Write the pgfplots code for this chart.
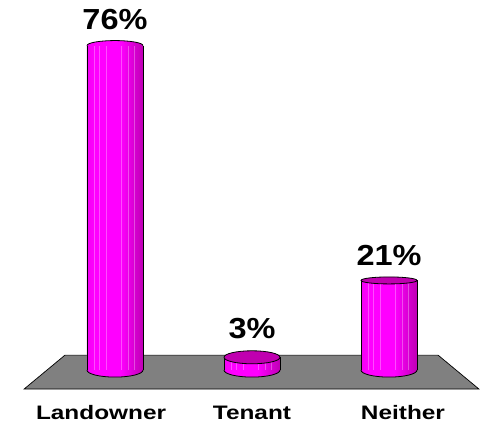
\documentclass[border=0pt]{standalone}
\usepackage{fontspec}
\setmainfont{Liberation Sans}
\newfontfamily\catfont[FakeStretch=1.25]{Liberation Sans}
\newfontfamily\valfont[FakeStretch=1.12]{Liberation Sans}
\usepackage{pgfplots}
\pgfplotsset{compat=1.18}

\definecolor{magL}{HTML}{F400F4}
\definecolor{magM}{HTML}{FF00FF}
\definecolor{magR}{HTML}{BE00B4}
\definecolor{capdark}{HTML}{C000B0}
\definecolor{floorgray}{HTML}{808080}

\pgfdeclarehorizontalshading{cyl}{100bp}{
  color(0bp)=(magL); color(25bp)=(magL); color(32bp)=(magM); color(55bp)=(magM);
  color(75bp)=(magR); color(100bp)=(magR)}

% caps and bases of the cylinders, half width 28, half height as given
\newcommand\capshape[1]{\pgfpathellipse{\pgfpointorigin}{\pgfqpoint{28pt}{0pt}}{\pgfqpoint{0pt}{#1}}}
% open half ellipse: only the curved edge gets stroked (#1 height, #2 control height)
\newcommand\halfcap[2]{%
  \pgfpathmoveto{\pgfqpoint{-28pt}{0pt}}%
  \pgfpathcurveto{\pgfqpoint{-28pt}{#2}}{\pgfqpoint{-15.5pt}{#1}}{\pgfqpoint{0pt}{#1}}%
  \pgfpathcurveto{\pgfqpoint{15.5pt}{#1}}{\pgfqpoint{28pt}{#2}}{\pgfqpoint{28pt}{0pt}}}
\pgfdeclareplotmark{bottomcap}{\halfcap{-7pt}{-3.87pt}\pgfshadepath{cyl}{0}\pgfusepathqstroke}
\pgfdeclareplotmark{roundtop}{\halfcap{5pt}{2.76pt}\pgfshadepath{cyl}{0}\pgfusepathqstroke}
\pgfdeclareplotmark{tenanttop}{\capshape{6.5pt}\pgfsetfillcolor{capdark}\pgfusepathqfillstroke}
\pgfdeclareplotmark{neithertop}{\capshape{3.5pt}\pgfsetfillcolor{capdark}\pgfusepathqfillstroke}

% #1 x, #2 value, #3 top mark, #4 label lift, #5 label
\newcommand\cylinder[5]{
  \addplot[ybar, bar width=56pt, bar shift=0pt, draw=none, shade, shading=cyl,
    nodes near coords={\valfont\bfseries\fontsize{29}{29}\selectfont #5},
    nodes near coords style={anchor=base, yshift=#4, inner sep=0pt, text=black}]
    coordinates {(#1,#2)};
  \addplot[ycomb, no marks, white, opacity=0.3, line width=0.5pt, xshift=-21pt] coordinates {(#1,#2)};
  \addplot[ycomb, no marks, white, opacity=0.3, line width=0.5pt, xshift=-16pt] coordinates {(#1,#2)};
  \addplot[ycomb, no marks, white, opacity=0.3, line width=0.5pt, xshift=-9pt] coordinates {(#1,#2)};
  \addplot[ycomb, no marks, white, opacity=0.3, line width=0.5pt, xshift=6pt] coordinates {(#1,#2)};
  \addplot[ycomb, no marks, white, opacity=0.3, line width=0.5pt, xshift=13pt] coordinates {(#1,#2)};
  \addplot[ycomb, no marks, white, opacity=0.3, line width=0.5pt, xshift=19pt] coordinates {(#1,#2)};
  \addplot[ycomb, no marks, black, line width=0.8pt, xshift=-28pt] coordinates {(#1,#2)};
  \addplot[ycomb, no marks, black, line width=0.8pt, xshift=28pt] coordinates {(#1,#2)};
  \addplot[only marks, mark=bottomcap, line width=0.8pt] coordinates {(#1,0)};
  \addplot[only marks, mark=#3, line width=0.8pt] coordinates {(#1,#2)};
}

\begin{document}
\begin{tikzpicture}
\begin{axis}[
  at={(0pt,24pt)}, anchor=south west,
  scale only axis,
  width=481pt, height=400pt,
  clip=false,
  xmin=-0.8394, xmax=2.6715,
  ymin=-7.026, ymax=86.651,
  axis line style={draw=none},
  major tick length=0pt,
  ytick=\empty,
  xtick={-0.102,1,2.102},
  xticklabels={Landowner,Tenant,Neither},
  xticklabel style={font=\catfont\bfseries\fontsize{19.5}{20}\selectfont, anchor=base, yshift=-19pt, inner sep=0pt},
]
\addplot[fill=floorgray, draw=black, line width=0.7pt] coordinates {
  (-0.664,-4.45) (-0.365,3.51) (2.358,3.51) (2.657,-4.45)} -- cycle;

\cylinder{0}{76}{roundtop}{16pt}{76\%}
\cylinder{1}{3}{tenanttop}{19pt}{3\%}
\cylinder{2}{21}{neithertop}{15pt}{21\%}
\end{axis}
\path[use as bounding box] (0pt,0pt) rectangle (481pt,424pt);
\end{tikzpicture}
\end{document}
